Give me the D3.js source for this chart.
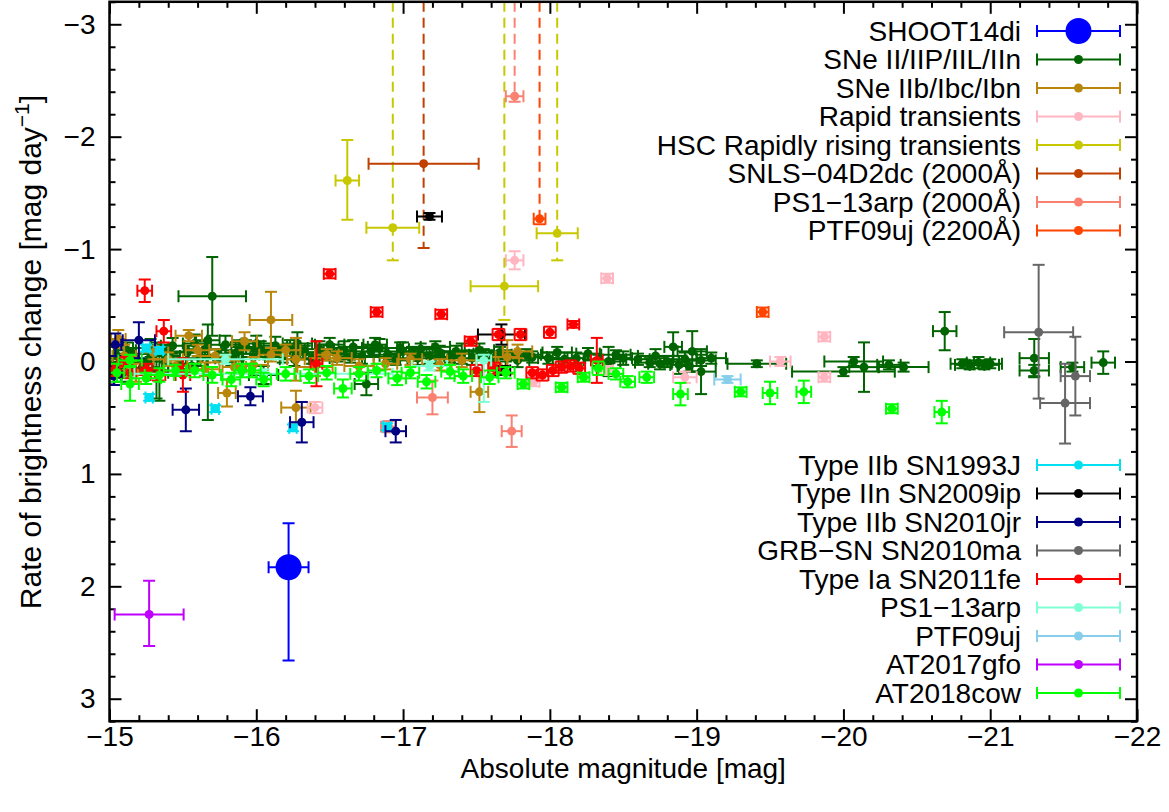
<!DOCTYPE html>
<html lang="en">
<head>
  <meta charset="UTF-8">
  <title>Rate of brightness change vs absolute magnitude</title>
  <script src="https://d3js.org/d3.v7.min.js"></script>
  <style>
    body { margin: 0; background: #fff; }
    text { font-family: "Liberation Sans", Arial, Helvetica, sans-serif; font-size: 28px; fill: #000; }
    .axis text { font-size: 28px; }
    .axis line { stroke: #000; stroke-width: 2; }
    .axis .domain { stroke: none; }
  </style>
</head>
<body>
  <svg class="graph" width="1169" height="812"></svg>
  <script>
    // rows: [absolute mag, rate, mag error, rate error (up / toward negative), rate error down]
    // a null "up" error means a lower limit: bar runs off the top of the plot (dashed)
    const shoot14di = [[-16.22, 1.83, 0.136, 0.39, 0.83]];

    const sneII = [
      [-15.05, -0.05, 0.08, 0.08], [-15.08, 0.12, 0.10, 0.06], [-15.12, -0.10, 0.06, 0.07],
      [-15.18, -0.02, 0.10, 0.10], [-15.22, 0.06, 0.08, 0.06], [-15.28, -0.12, 0.12, 0.08],
      [-15.32, 0.08, 0.08, 0.25], [-15.38, -0.05, 0.10, 0.06], [-15.43, -0.14, 0.08, 0.07],
      [-15.48, 0.02, 0.12, 0.05], [-15.53, -0.08, 0.10, 0.06], [-15.58, -0.16, 0.08, 0.08],
      [-15.62, -0.03, 0.10, 0.07], [-15.67, -0.19, 0.08, 0.14, 0.71], [-15.70, -0.58, 0.23, 0.35],
      [-15.74, -0.06, 0.12, 0.05], [-15.79, -0.15, 0.10, 0.08], [-15.83, -0.02, 0.08, 0.06],
      [-15.88, -0.10, 0.12, 0.09], [-15.93, -0.13, 0.10, 0.06], [-15.98, -0.04, 0.08, 0.08],
      [-16.03, -0.11, 0.12, 0.07], [-16.08, -0.07, 0.10, 0.05], [-16.13, -0.14, 0.08, 0.08],
      [-16.18, -0.05, 0.10, 0.06], [-16.23, -0.12, 0.12, 0.07], [-16.28, -0.16, 0.10, 0.10],
      [-16.33, -0.08, 0.08, 0.06], [-16.38, -0.03, 0.12, 0.05], [-16.43, -0.11, 0.10, 0.07],
      [-16.50, -0.15, 0.10, 0.06], [-16.55, -0.06, 0.12, 0.06], [-16.60, -0.10, 0.08, 0.08],
      [-16.66, -0.13, 0.10, 0.06], [-16.72, -0.05, 0.12, 0.07], [-16.78, -0.09, 0.10, 0.05],
      [-16.84, -0.12, 0.12, 0.08], [-16.90, -0.06, 0.10, 0.06], [-16.95, -0.02, 0.08, 0.05],
      [-17.00, -0.09, 0.12, 0.08], [-17.06, -0.07, 0.10, 0.06], [-17.12, -0.11, 0.08, 0.05],
      [-17.18, -0.05, 0.10, 0.07], [-17.25, -0.08, 0.12, 0.06], [-17.32, -0.04, 0.10, 0.05],
      [-17.40, -0.07, 0.08, 0.09], [-17.47, -0.03, 0.12, 0.06], [-17.55, -0.06, 0.10, 0.05],
      [-17.62, -0.02, 0.08, 0.07], [-17.70, -0.05, 0.10, 0.05], [-17.78, -0.01, 0.08, 0.06],
      [-17.88, -0.04, 0.10, 0.05], [-17.99, -0.03, 0.07, 0.05], [-18.10, -0.02, 0.08, 0.06],
      [-18.26, -0.07, 0.08, 0.05], [-18.33, -0.01, 0.10, 0.05], [-18.40, 0.00, 0.08, 0.13],
      [-18.50, -0.03, 0.06, 0.06], [-18.60, -0.02, 0.08, 0.05], [-18.68, 0.01, 0.10, 0.04],
      [-18.75, 0.02, 0.08, 0.05], [-18.80, 0.00, 0.10, 0.05], [-18.84, -0.13, 0.06, 0.13],
      [-18.88, 0.03, 0.06, 0.08], [-18.92, -0.02, 0.08, 0.06], [-18.97, -0.09, 0.10, 0.18],
      [-19.03, -0.01, 0.10, 0.05], [-19.03, 0.09, 0.10, 0.20], [-19.41, 0.02, 0.20, 0.03],
      [-20.00, 0.09, 0.35, 0.04], [-20.07, 0.00, 0.20, 0.04], [-20.14, 0.05, 0.10, 0.22],
      [-20.31, 0.03, 0.08, 0.04], [-20.41, 0.05, 0.17, 0.04], [-20.69, -0.27, 0.08, 0.17],
      [-20.81, 0.02, 0.08, 0.04], [-20.86, 0.03, 0.10, 0.04], [-20.92, 0.01, 0.08, 0.05],
      [-20.96, 0.03, 0.10, 0.04], [-21.00, 0.02, 0.08, 0.04], [-21.30, -0.03, 0.10, 0.17],
      [-21.30, 0.08, 0.10, 0.05], [-21.56, 0.05, 0.08, 0.04], [-21.77, 0.01, 0.08, 0.10],
      [-15.34, 0.10, 0.06, 0.25], [-16.05, 0.12, 0.10, 0.08], [-16.75, 0.20, 0.08, 0.10],
      [-15.02, 0.03, 0.05, 0.06], [-15.15, -0.07, 0.12, 0.05], [-15.26, 0.00, 0.10, 0.07],
      [-15.40, -0.09, 0.14, 0.06], [-15.56, 0.04, 0.10, 0.06], [-15.65, -0.11, 0.14, 0.07],
      [-15.86, -0.07, 0.10, 0.10], [-16.00, -0.16, 0.10, 0.07], [-16.15, -0.09, 0.15, 0.05],
      [-16.26, -0.02, 0.10, 0.06], [-16.46, -0.08, 0.14, 0.07], [-16.64, -0.04, 0.10, 0.05],
      [-16.81, -0.15, 0.08, 0.06], [-16.98, -0.12, 0.14, 0.05], [-17.10, -0.03, 0.12, 0.06],
      [-17.22, -0.13, 0.10, 0.05], [-17.36, -0.09, 0.14, 0.05], [-17.52, -0.10, 0.10, 0.06],
      [-17.66, -0.08, 0.12, 0.05], [-17.84, -0.06, 0.10, 0.05], [-18.05, -0.08, 0.10, 0.05],
      [-18.18, -0.03, 0.06, 0.05], [-18.45, -0.06, 0.10, 0.04], [-18.72, -0.05, 0.12, 0.06],
      [-18.95, 0.04, 0.08, 0.05], [-19.10, -0.03, 0.10, 0.05]
    ];

    const sneIIb = [
      [-16.10, -0.37, 0.145, 0.25], [-15.54, -0.23, 0.09, 0.05], [-15.92, -0.18, 0.085, 0.08],
      [-16.27, 0.41, 0.10, 0.15], [-16.27, -0.02, 0.06, 0.19], [-15.65, 0.07, 0.10, 0.06],
      [-15.80, 0.28, 0.06, 0.12], [-16.10, -0.06, 0.08, 0.06], [-15.10, -0.05, 0.08, 0.10],
      [-15.18, 0.10, 0.06, 0.08], [-15.40, -0.02, 0.10, 0.06], [-15.60, -0.10, 0.08, 0.05],
      [-15.98, 0.03, 0.10, 0.07], [-16.40, 0.05, 0.12, 0.08], [-16.55, -0.03, 0.10, 0.06],
      [-16.88, 0.02, 0.08, 0.05], [-17.25, 0.03, 0.08, 0.05], [-17.52, 0.27, 0.06, 0.18],
      [-17.71, -0.04, 0.08, 0.15], [-17.78, -0.09, 0.10, 0.06], [-17.65, 0.04, 0.06, 0.08],
      [-15.06, -0.20, 0.05, 0.08], [-15.30, -0.08, 0.10, 0.06], [-15.45, 0.04, 0.08, 0.05],
      [-15.72, -0.05, 0.10, 0.06], [-15.85, 0.05, 0.08, 0.06], [-16.20, -0.10, 0.10, 0.05],
      [-16.48, -0.06, 0.08, 0.05], [-16.70, 0.04, 0.10, 0.06], [-17.05, -0.02, 0.08, 0.05],
      [-17.40, -0.01, 0.10, 0.06]
    ];

    const rapid = [
      [-18.39, -0.74, 0.04, 0.04], [-17.76, -0.90, 0.06, 0.08], [-19.87, -0.22, 0.04, 0.04],
      [-19.87, 0.14, 0.04, 0.04], [-19.57, 0.00, 0.07, 0.04], [-16.40, 0.41, 0.05, 0.05],
      [-18.92, 0.14, 0.08, 0.05], [-18.39, 0.08, 0.04, 0.04], [-17.89, 0.18, 0.04, 0.04]
    ];

    const hsc = [
      [-16.62, -1.61, 0.08, 0.36, 0.35], [-16.93, -1.19, 0.18, null, 0.29],
      [-17.69, -0.67, 0.23, null, 0.30], [-18.05, -1.14, 0.14, null, 0.24]
    ];
    const snls04d2dc = [[-17.14, -1.76, 0.375, null, 0.75]];
    const ps113arpUV = [
      [-17.76, -2.36, 0.06, null, 0.05], [-17.20, 0.32, 0.105, 0.15],
      [-17.74, 0.62, 0.068, 0.14], [-16.90, 0.58, 0.05, 0.05]
    ];
    const ptf09ujUV = [[-17.93, -1.27, 0.04, null, 0.05], [-19.45, -0.44, 0.04, 0.04]];

    const sn1993j = [
      [-15.25, -0.12, 0.025, 0.03], [-15.34, -0.10, 0.025, 0.03], [-15.27, 0.32, 0.025, 0.03],
      [-15.72, 0.42, 0.025, 0.03], [-16.25, 0.59, 0.025, 0.03], [-16.89, 0.58, 0.025, 0.03]
    ];
    const sn2009ip = [[-17.18, -1.29, 0.085, 0.03], [-17.67, -0.24, 0.16, 0.09], [-17.68, 0.08, 0.05, 0.04]];
    const sn2010jr = [
      [-15.20, -0.19, 0.11, 0.16], [-15.52, 0.43, 0.09, 0.19], [-15.96, 0.31, 0.085, 0.08],
      [-16.31, 0.54, 0.08, 0.18], [-16.95, 0.62, 0.07, 0.10], [-15.03, 0.13, 0.05, 0.08],
      [-15.04, -0.15, 0.04, 0.10]
    ];
    const sn2010ma = [[-21.33, -0.26, 0.235, 0.60, 0.59], [-21.51, 0.37, 0.17, 0.35, 0.36], [-21.58, 0.13, 0.10, 0.35]];
    const sn2011fe = [
      [-15.24, -0.63, 0.05, 0.10], [-15.37, -0.27, 0.05, 0.10], [-16.50, -0.78, 0.04, 0.04],
      [-16.82, -0.44, 0.04, 0.04], [-17.26, -0.42, 0.04, 0.04], [-17.46, -0.18, 0.04, 0.04],
      [-17.65, -0.24, 0.04, 0.05], [-17.80, -0.24, 0.04, 0.05], [-18.00, -0.26, 0.04, 0.05],
      [-18.16, -0.33, 0.04, 0.03], [-18.32, -0.01, 0.04, 0.20], [-17.50, 0.08, 0.04, 0.05],
      [-17.62, 0.06, 0.04, 0.05], [-17.88, 0.10, 0.04, 0.05], [-17.95, 0.12, 0.04, 0.05],
      [-18.02, 0.08, 0.04, 0.05], [-18.08, 0.05, 0.04, 0.05], [-18.14, 0.04, 0.04, 0.05],
      [-18.20, 0.06, 0.04, 0.05], [-15.03, 0.08, 0.04, 0.05], [-15.10, 0.02, 0.05, 0.06],
      [-15.14, 0.10, 0.04, 0.05], [-15.25, 0.07, 0.04, 0.05], [-15.33, 0.12, 0.05, 0.05],
      [-15.48, 0.08, 0.04, 0.05], [-15.50, 0.12, 0.05, 0.15], [-16.41, 0.02, 0.04, 0.20]
    ];
    const ps113arp = [
      [-15.79, -0.02, 0.39, 0.04], [-16.05, 0.11, 0.88, 0.04], [-17.18, 0.04, 0.12, 0.04],
      [-17.55, -0.01, 0.05, 0.05, 0.37]
    ];
    const ptf09uj = [[-19.21, 0.16, 0.09, 0.03]];
    const at2017gfo = [[-15.27, 2.25, 0.235, 0.30, 0.28]];
    const at2018cow = [
      [-15.05, 0.10, 0.05, 0.08], [-15.14, -0.01, 0.08, 0.05], [-15.14, 0.20, 0.06, 0.15],
      [-15.34, 0.12, 0.10, 0.06], [-15.45, 0.08, 0.08, 0.05], [-15.58, 0.08, 0.06, 0.06],
      [-15.83, 0.16, 0.06, 0.06], [-15.90, 0.08, 0.05, 0.06], [-15.97, 0.08, 0.06, 0.06],
      [-16.20, 0.11, 0.06, 0.06], [-16.36, 0.13, 0.06, 0.06], [-16.59, 0.24, 0.06, 0.08],
      [-16.70, 0.11, 0.06, 0.06], [-16.82, 0.08, 0.06, 0.06], [-16.96, 0.15, 0.06, 0.06],
      [-17.16, 0.18, 0.06, 0.06], [-17.32, 0.09, 0.06, 0.06], [-17.41, 0.13, 0.06, 0.06],
      [-17.59, 0.14, 0.06, 0.06], [-17.82, 0.20, 0.04, 0.04], [-18.08, 0.23, 0.04, 0.04],
      [-18.23, 0.14, 0.04, 0.04], [-18.33, 0.06, 0.04, 0.06], [-18.53, 0.18, 0.05, 0.05],
      [-18.66, 0.14, 0.05, 0.05], [-18.89, 0.29, 0.05, 0.10], [-19.30, 0.27, 0.04, 0.04],
      [-19.50, 0.28, 0.05, 0.10], [-19.73, 0.27, 0.05, 0.10], [-20.33, 0.42, 0.04, 0.04],
      [-20.67, 0.45, 0.05, 0.10], [-15.25, 0.15, 0.10, 0.05], [-15.70, 0.12, 0.06, 0.07],
      [-16.05, 0.16, 0.05, 0.06], [-16.48, 0.10, 0.06, 0.06], [-17.05, 0.10, 0.06, 0.05],
      [-17.70, 0.10, 0.06, 0.05], [-18.45, 0.11, 0.05, 0.05]
    ];

    // legend groups, in plot order
    const topLegend = [
      { name: "SHOOT14di", data: shoot14di, color: "#0000ff", r: 13 },
      { name: "SNe II/IIP/IIL/IIn", data: sneII, color: "#006400" },
      { name: "SNe IIb/Ibc/Ibn", data: sneIIb, color: "#b8860b" },
      { name: "Rapid transients", data: rapid, color: "#ffb6c1" },
      { name: "HSC Rapidly rising transients", data: hsc, color: "#c8c800" },
      { name: "SNLS\u221204D2dc (2000\u00c5)", data: snls04d2dc, color: "#c04000" },
      { name: "PS1\u221213arp (2000\u00c5)", data: ps113arpUV, color: "#fa8072" },
      { name: "PTF09uj (2200\u00c5)", data: ptf09ujUV, color: "#ff4500" }
    ];
    const bottomLegend = [
      { name: "Type IIb SN1993J", data: sn1993j, color: "#00e0f0" },
      { name: "Type IIn SN2009ip", data: sn2009ip, color: "#000000" },
      { name: "Type IIb SN2010jr", data: sn2010jr, color: "#000080" },
      { name: "GRB\u2212SN SN2010ma", data: sn2010ma, color: "#666666" },
      { name: "Type Ia SN2011fe", data: sn2011fe, color: "#ff0000" },
      { name: "PS1\u221213arp", data: ps113arp, color: "#7fffd4" },
      { name: "PTF09uj", data: ptf09uj, color: "#87ceeb" },
      { name: "AT2017gfo", data: at2017gfo, color: "#c000ff" },
      { name: "AT2018cow", data: at2018cow, color: "#00ff00" }
    ];

    const svg = d3.select('svg.graph');
    const plot = { left: 109.5, right: 1137, top: 1.8, bottom: 721.2 };
    const x = d3.scaleLinear().domain([-15, -22]).range([plot.left, plot.right]);
    const y = d3.scaleLinear().domain([-3.2, 3.2]).range([plot.top, plot.bottom]);
    const cap = 6;

    svg.append('clipPath').attr('id', 'clip')
      .append('rect')
      .attr('x', plot.left).attr('y', plot.top)
      .attr('width', plot.right - plot.left).attr('height', plot.bottom - plot.top);

    //ticks
    const xMajor = d3.range(-15, -22.5, -1);
    const xMinor = d3.range(-15, -22.01, -0.2).filter(v => Math.abs(v - Math.round(v)) > 0.01);
    const yMajor = d3.range(-3, 3.5, 1);
    const yMinor = d3.range(-3.2, 3.21, 0.2).filter(v => Math.abs(v - Math.round(v)) > 0.01);
    const fmt = d3.format('d');

    svg.append('g').attr('class', 'axis')
      .attr('transform', `translate(0,${plot.bottom})`)
      .call(d3.axisBottom(x).tickValues(xMajor).tickSize(-12).tickPadding(5).tickFormat(fmt));
    svg.append('g').attr('class', 'axis')
      .attr('transform', `translate(0,${plot.bottom})`)
      .call(d3.axisBottom(x).tickValues(xMinor).tickSize(-6).tickFormat(''));
    svg.append('g').attr('class', 'axis')
      .attr('transform', `translate(0,${plot.top})`)
      .call(d3.axisTop(x).tickValues(xMajor).tickSize(-12).tickFormat(''));
    svg.append('g').attr('class', 'axis')
      .attr('transform', `translate(0,${plot.top})`)
      .call(d3.axisTop(x).tickValues(xMinor).tickSize(-6).tickFormat(''));

    svg.append('g').attr('class', 'axis')
      .attr('transform', `translate(${plot.left},0)`)
      .call(d3.axisLeft(y).tickValues(yMajor).tickSize(-12).tickPadding(14).tickFormat(fmt));
    svg.append('g').attr('class', 'axis')
      .attr('transform', `translate(${plot.left},0)`)
      .call(d3.axisLeft(y).tickValues(yMinor).tickSize(-6).tickFormat(''));
    svg.append('g').attr('class', 'axis')
      .attr('transform', `translate(${plot.right},0)`)
      .call(d3.axisRight(y).tickValues(yMajor).tickSize(-12).tickFormat(''));
    svg.append('g').attr('class', 'axis')
      .attr('transform', `translate(${plot.right},0)`)
      .call(d3.axisRight(y).tickValues(yMinor).tickSize(-6).tickFormat(''));

    // axis titles
    svg.append('text')
      .attr('x', (plot.left + plot.right) / 2).attr('y', 778)
      .attr('text-anchor', 'middle')
      .text('Absolute magnitude [mag]');
    const ylab = svg.append('text')
      .attr('transform', 'translate(41,352) rotate(-90)')
      .attr('text-anchor', 'middle')
      .style('font-size', '30px');
    ylab.append('tspan').text('Rate of brightness change [mag day');
    ylab.append('tspan').attr('dy', -12).style('font-size', '21px').text('\u22121');
    ylab.append('tspan').attr('dy', 12).text(']');

    // one point with x and y error bars
    function drawPoint(g, d, color, r) {
      const [m, v, dm, up, down0] = d;
      const down = down0 === undefined ? up : down0;
      const cx = x(m), cy = y(v);
      const s = g.append('g').attr('stroke', color).attr('stroke-width', 2).attr('fill', 'none');
      const x1 = x(m - dm), x2 = x(m + dm);
      s.append('line').attr('x1', x1).attr('x2', x2).attr('y1', cy).attr('y2', cy);
      s.append('line').attr('x1', x1).attr('x2', x1).attr('y1', cy - cap).attr('y2', cy + cap);
      s.append('line').attr('x1', x2).attr('x2', x2).attr('y1', cy - cap).attr('y2', cy + cap);
      const yb = y(v + down);
      if (up === null) {
        s.append('line').attr('x1', cx).attr('x2', cx).attr('y1', plot.top).attr('y2', yb)
          .attr('stroke-dasharray', '10,6');
      } else {
        const yt = y(v - up);
        s.append('line').attr('x1', cx).attr('x2', cx).attr('y1', yt).attr('y2', yb);
        s.append('line').attr('x1', cx - cap).attr('x2', cx + cap).attr('y1', yt).attr('y2', yt);
      }
      s.append('line').attr('x1', cx - cap).attr('x2', cx + cap).attr('y1', yb).attr('y2', yb);
      g.append('circle').attr('cx', cx).attr('cy', cy).attr('r', r).attr('fill', color);
    }

    const chartArea = svg.append('g').attr('clip-path', 'url(#clip)');
    const allSeries = topLegend.slice(1).concat(bottomLegend, topLegend.slice(0, 1));
    allSeries.forEach(s => {
      s.data.forEach(d => drawPoint(chartArea, d, s.color, s.r || 4.5));
    });

    // legends
    function drawLegend(items, y0) {
      items.forEach((s, i) => {
        const ly = y0 + i * 28.5;
        svg.append('text').attr('x', 1021).attr('y', ly).attr('dy', '0.35em')
          .attr('text-anchor', 'end').text(s.name);
        const g = svg.append('g').attr('stroke', s.color).attr('stroke-width', 2);
        g.append('line').attr('x1', 1037).attr('x2', 1120).attr('y1', ly).attr('y2', ly);
        g.append('line').attr('x1', 1037).attr('x2', 1037).attr('y1', ly - cap).attr('y2', ly + cap);
        g.append('line').attr('x1', 1120).attr('x2', 1120).attr('y1', ly - cap).attr('y2', ly + cap);
        svg.append('circle').attr('cx', 1078.5).attr('cy', ly).attr('r', s.r || 4.5).attr('fill', s.color);
      });
    }
    drawLegend(topLegend, 31);
    drawLegend(bottomLegend, 465);

    // frame on top
    svg.append('rect')
      .attr('x', plot.left).attr('y', plot.top)
      .attr('width', plot.right - plot.left).attr('height', plot.bottom - plot.top)
      .attr('fill', 'none').attr('stroke', '#000').attr('stroke-width', 2.5);
  </script>
</body>
</html>
